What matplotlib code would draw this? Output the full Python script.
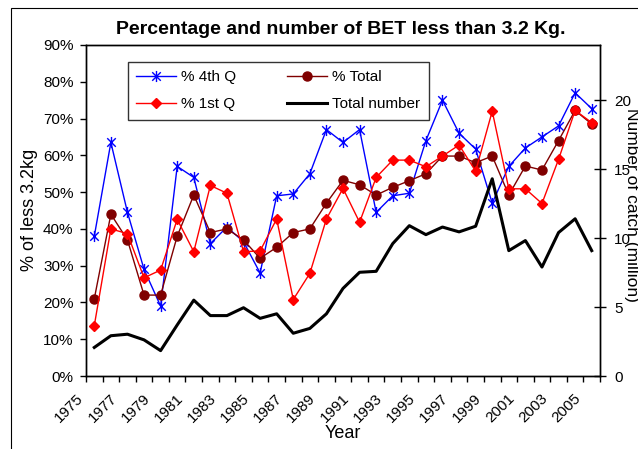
import numpy as np
import matplotlib
matplotlib.use("Agg")
import matplotlib.pyplot as plt
import matplotlib.transforms as mtransforms
from matplotlib.path import Path
from matplotlib.patches import Rectangle
from matplotlib.ticker import PercentFormatter, FixedLocator

plt.rcParams['font.family'] = ['Liberation Sans', 'DejaVu Sans']

years = list(range(1975, 2006))
pct_4th_q = [38, 63.5, 44.5, 29, 19, 57, 54, 36, 40.5, 36.5, 28, 49, 49.5, 55, 67, 63.5,
             67, 44.5, 49, 49.7, 64, 75, 66, 61.7, 47, 57, 62, 65, 68, 77, 72.7]
pct_total = [21, 44, 37, 22, 22, 38, 49.2, 39, 40, 37, 32, 35, 39, 40, 47, 53.2,
             52, 49.2, 51.3, 53.1, 55, 59.8, 59.8, 58, 59.8, 49.2, 57.1, 56, 64, 72.2, 68.5]
pct_1st_q = [13.7, 40, 38.7, 26.7, 28.8, 42.6, 33.8, 51.8, 49.7, 33.8, 34, 42.7, 20.8, 27.9, 42.7, 51,
             41.8, 54, 58.7, 58.7, 56.9, 59.8, 62.8, 55.7, 72, 50.9, 50.9, 46.9, 58.9, 72.2, 68.9]
total_number = [2.07, 2.92, 3.03, 2.62, 1.84, 3.7, 5.5, 4.38, 4.38, 4.95, 4.18, 4.51, 3.1, 3.45, 4.51, 6.35,
                7.52, 7.59, 9.6, 10.9, 10.25, 10.8, 10.45, 10.86, 14.3, 9.09, 9.82, 7.9, 10.4, 11.4, 9.09]

W, H = 638, 449
fig = plt.figure(figsize=(W / 100, H / 100), dpi=100)
ax = fig.add_axes([86 / W, 1 - 376 / H, (600 - 86) / W, (376 - 45) / H])
ax2 = ax.twinx()

# Excel style star: an X with a vertical bar
star = Path([(-1, -1), (1, 1), (-1, 1), (1, -1), (0, -1.3), (0, 1.3)],
            [Path.MOVETO, Path.LINETO] * 3)

x = np.arange(len(years))
l1, = ax.plot(x, pct_4th_q, color='#0000FF', lw=1.0, marker=star, ms=8,
              mew=1.0, label='% 4th Q')
l2, = ax.plot(x, pct_total, color='#800000', lw=1.0, marker='o', ms=6.5,
              label='% Total')
l3, = ax.plot(x, pct_1st_q, color='#FF0000', lw=1.0, marker='D', ms=5.3,
              label='% 1st Q')
l4, = ax2.plot(x, total_number, color='black', lw=2.2, label='Total number')

ax.set_xlim(-0.5, len(years) - 0.5)
ax.set_ylim(0, 90)
ax.set_yticks(np.arange(0, 91, 10))
ax.yaxis.set_major_formatter(PercentFormatter(xmax=100, decimals=0))
ax.tick_params(axis='y', direction='out', length=4, width=1, pad=5, labelsize=11)

ax2.set_ylim(0, 24)
ax2.set_yticks([0, 5, 10, 15, 20])
ax2.tick_params(axis='y', direction='inout', length=8, width=1, pad=6, labelsize=11)

# category ticks between years, labels every other year
ax.xaxis.set_minor_locator(FixedLocator(np.arange(-0.5, len(years), 1)))
ax.set_xticks(x[::2])
ax.set_xticklabels([str(y) for y in years[::2]], rotation=45, ha='right', va='top',
                   rotation_mode='default', fontsize=11)
ax.tick_params(axis='x', which='major', length=0, pad=10.8)
ax.tick_params(axis='x', which='minor', direction='out', length=4.5, width=1)
shift = mtransforms.ScaledTranslation(-0.08, 0, fig.dpi_scale_trans)
for lab in ax.get_xticklabels():
    lab.set_transform(lab.get_transform() + shift)

for a in (ax, ax2):
    for s in a.spines.values():
        s.set_linewidth(1.0)
        s.set_color('black')

fig.text(340.5 / W, 1 - 30 / H, 'Percentage and number of BET less than 3.2 Kg.',
         ha='center', va='center', fontsize=14, fontweight='bold')
fig.text(343 / W, 1 - 434 / H, 'Year', ha='center', va='center', fontsize=13)
fig.text(30 / W, 1 - 210 / H, '% of less 3.2kg', rotation=90, ha='center', va='center',
         fontsize=13)
fig.text(632 / W, 1 - 205 / H, 'Number of catch (million)', rotation=-90, ha='center',
         va='center', fontsize=12.5)

leg = ax2.legend([l1, l3, l2, l4], ['% 4th Q', '% 1st Q', '% Total', 'Total number'],
                 ncol=2, loc='upper left', bbox_to_anchor=(128 / W, 1 - 62 / H),
                 bbox_transform=fig.transFigure, borderaxespad=0, fontsize=11,
                 frameon=True, fancybox=False, handlelength=2.6, handletextpad=0.35,
                 columnspacing=3.3, labelspacing=0.85, borderpad=0.55)
leg.get_frame().set_edgecolor('black')
leg.get_frame().set_linewidth(1.0)

fig.patches.append(Rectangle((11 / W, -0.1), 1.2, 1 - 7.5 / H + 0.1, fill=False,
                             ec='black', lw=0.8, transform=fig.transFigure))

fig.savefig('out.png', dpi=100)
